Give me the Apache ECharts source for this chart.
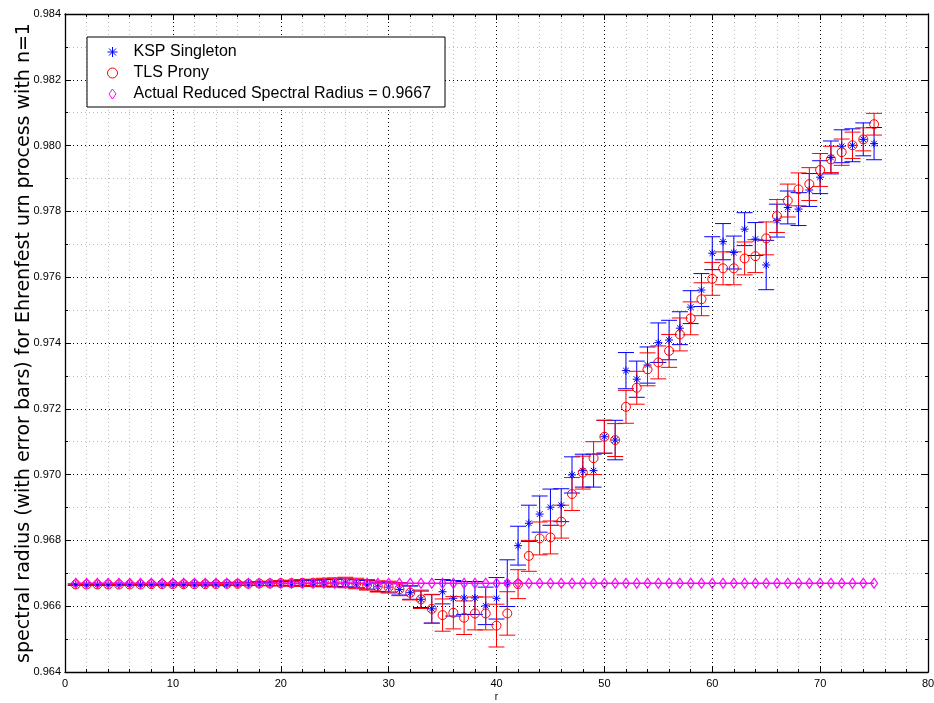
<!DOCTYPE html>
<html>
<head>
<meta charset="utf-8">
<script src="https://cdn.jsdelivr.net/npm/echarts@6/dist/echarts.min.js"></script>
<style>
  html, body { margin: 0; padding: 0; background: #fff; }
  #chart { width: 934px; height: 703px; }
</style>
</head>
<body>
<div id="chart"></div>
<script>
// r = 1 .. 75
const rValues = Array.from({ length: 75 }, (_, i) => i + 1);

// KSP Singleton estimates and error half-widths
const kspValues = [
  0.96665, 0.96665, 0.96665, 0.96665, 0.96666, 0.96666, 0.96666, 0.96666, 0.96666, 0.96666,
  0.96666, 0.96667, 0.96667, 0.96667, 0.96667, 0.96667, 0.96668, 0.96668, 0.96668, 0.96669,
  0.96669, 0.96670, 0.96670, 0.96671, 0.96671, 0.96671, 0.96668, 0.96665, 0.96659, 0.96658,
  0.96651, 0.96641, 0.96621, 0.96592, 0.96644, 0.96624, 0.96625, 0.96625, 0.96601, 0.96624,
  0.96670, 0.96784, 0.96852, 0.96880, 0.96901, 0.96907, 0.96999, 0.97012, 0.97012, 0.97115,
  0.97105, 0.97316, 0.97290, 0.97333, 0.97401, 0.97409, 0.97445, 0.97509, 0.97561, 0.97673,
  0.97708, 0.97675, 0.97746, 0.97716, 0.97637, 0.97772, 0.97812, 0.97807, 0.97865, 0.97904,
  0.97964, 0.97998, 0.98001, 0.98019, 0.98006
];
const kspErrors = [
  0.00002, 0.00002, 0.00002, 0.00002, 0.00002, 0.00002, 0.00002, 0.00002, 0.00002, 0.00002,
  0.00003, 0.00003, 0.00003, 0.00003, 0.00003, 0.00004, 0.00004, 0.00005, 0.00005, 0.00006,
  0.00007, 0.00008, 0.00009, 0.00010, 0.00011, 0.00012, 0.00012, 0.00013, 0.00014, 0.00015,
  0.00017, 0.00020, 0.00025, 0.00043, 0.00037, 0.00054, 0.00050, 0.00050, 0.00057, 0.00063,
  0.00071, 0.00059, 0.00055, 0.00055, 0.00055, 0.00050, 0.00055, 0.00050, 0.00050, 0.00050,
  0.00060, 0.00055, 0.00055, 0.00055, 0.00060, 0.00060, 0.00050, 0.00050, 0.00050, 0.00050,
  0.00055, 0.00050, 0.00050, 0.00050, 0.00075, 0.00050, 0.00050, 0.00050, 0.00050, 0.00050,
  0.00050, 0.00050, 0.00050, 0.00050, 0.00049
];

// TLS Prony estimates and error half-widths
const tlsValues = [
  0.96666, 0.96666, 0.96666, 0.96666, 0.96666, 0.96666, 0.96666, 0.96667, 0.96667, 0.96667,
  0.96667, 0.96667, 0.96667, 0.96667, 0.96668, 0.96668, 0.96668, 0.96669, 0.96669, 0.96670,
  0.96670, 0.96671, 0.96671, 0.96672, 0.96672, 0.96672, 0.96669, 0.96665, 0.96660, 0.96658,
  0.96652, 0.96641, 0.96621, 0.96592, 0.96573, 0.96580, 0.96565, 0.96578, 0.96578, 0.96541,
  0.96578, 0.96667, 0.96753, 0.96806, 0.96809, 0.96857, 0.96941, 0.97006, 0.97050, 0.97115,
  0.97105, 0.97206, 0.97264, 0.97320, 0.97341, 0.97376, 0.97426, 0.97475, 0.97533, 0.97595,
  0.97627, 0.97627, 0.97657, 0.97664, 0.97718, 0.97786, 0.97833, 0.97867, 0.97883, 0.97926,
  0.97958, 0.97980, 0.98001, 0.98019, 0.98065
];
const tlsErrors = [
  0.00002, 0.00002, 0.00002, 0.00002, 0.00002, 0.00002, 0.00002, 0.00002, 0.00002, 0.00003,
  0.00003, 0.00003, 0.00003, 0.00004, 0.00004, 0.00005, 0.00005, 0.00006, 0.00007, 0.00008,
  0.00009, 0.00010, 0.00011, 0.00013, 0.00014, 0.00016, 0.00016, 0.00016, 0.00017, 0.00018,
  0.00020, 0.00022, 0.00028, 0.00044, 0.00049, 0.00049, 0.00051, 0.00050, 0.00050, 0.00065,
  0.00066, 0.00044, 0.00047, 0.00050, 0.00050, 0.00050, 0.00050, 0.00050, 0.00050, 0.00050,
  0.00050, 0.00050, 0.00050, 0.00050, 0.00050, 0.00050, 0.00050, 0.00050, 0.00050, 0.00050,
  0.00050, 0.00050, 0.00050, 0.00050, 0.00050, 0.00050, 0.00050, 0.00050, 0.00050, 0.00050,
  0.00040, 0.00040, 0.00040, 0.00035, 0.00033
];

// Actual reduced spectral radius (constant reference)
const actualRadius = 0.9667;
const actualValues = rValues.map(() => actualRadius);

const seriesNames = [
  'KSP Singleton',
  'TLS Prony',
  'Actual Reduced Spectral Radius = 0.9667'
];

const xTicks = { min: 0, max: 80, interval: 10 };
const yTicks = { min: 0.964, max: 0.984, interval: 0.002 };

const FONT = "'Liberation Sans', Arial, Helvetica, sans-serif";
const BLUE = '#0000ff';
const RED = '#ff0000';
const MAGENTA = '#ff00ff';
const CAP_HALF = 0.74; // error bar cap half-width in r units

const ASTERISK = 'path://M50,0 L50,100 M0,50 L100,50 M15,15 L85,85 M15,85 L85,15';
const DIAMOND = 'path://M35,0 L70,50 L35,100 L0,50 Z';

function errorBarSeries(name, color, values, errors) {
  return {
    name: name,
    type: 'custom',
    silent: true,
    data: rValues.map((r, i) => [r, values[i], errors[i]]),
    encode: { x: 0, y: 1 },
    renderItem: function (params, api) {
      const x = api.value(0), y = api.value(1), e = api.value(2);
      const top = api.coord([x, y + e]);
      const bot = api.coord([x, y - e]);
      const hw = api.size([CAP_HALF, 0])[0];
      const style = { stroke: color, lineWidth: 1 };
      return {
        type: 'group',
        children: [
          { type: 'line', shape: { x1: top[0], y1: top[1], x2: bot[0], y2: bot[1] }, style: style },
          { type: 'line', shape: { x1: top[0] - hw, y1: top[1], x2: top[0] + hw, y2: top[1] }, style: style },
          { type: 'line', shape: { x1: bot[0] - hw, y1: bot[1], x2: bot[0] + hw, y2: bot[1] }, style: style }
        ]
      };
    }
  };
}

const gridDots = { color: '#000', width: 1, type: [1, 3] };
const minorDots = { color: '#b8b8b8', width: 1, type: [1, 3] };

const chart = echarts.init(document.getElementById('chart'), null, { renderer: 'canvas' });

chart.setOption({
  animation: false,
  backgroundColor: '#fff',
  textStyle: { fontFamily: FONT },
  grid: { left: 65, right: 6, top: 14, bottom: 31, containLabel: false, outerBoundsMode: 'none' },
  legend: {
    orient: 'vertical',
    left: 87,
    top: 37,
    padding: [5, 14, 3, 20],
    itemGap: 1,
    itemWidth: 10,
    itemHeight: 10,
    backgroundColor: '#fff',
    borderColor: '#000',
    borderWidth: 1,
    borderRadius: 0,
    selectedMode: false,
    textStyle: { fontFamily: FONT, fontSize: 16, color: '#000', lineHeight: 20, padding: [0, 0, 0, 11] },
    data: [
      { name: seriesNames[0], icon: ASTERISK, itemStyle: { color: 'transparent', borderColor: BLUE, borderWidth: 1 } },
      { name: seriesNames[1], icon: 'circle', itemStyle: { color: 'transparent', borderColor: RED, borderWidth: 1 } },
      { name: seriesNames[2], icon: DIAMOND, itemStyle: { color: 'transparent', borderColor: MAGENTA, borderWidth: 1 } }
    ]
  },
  xAxis: [
    {
      type: 'value',
      min: xTicks.min, max: xTicks.max, interval: xTicks.interval,
      name: 'r', nameLocation: 'middle', nameGap: 20, nameMoveOverlap: false,
      nameTextStyle: { fontSize: 10, color: '#000', fontFamily: FONT },
      axisLine: { show: true, onZero: false, lineStyle: { color: '#000', width: 1.3 } },
      axisTick: { show: true, inside: true, length: 6, lineStyle: { color: '#000' } },
      minorTick: { show: true, splitNumber: 5, length: 3, lineStyle: { color: '#000' } },
      axisLabel: { fontSize: 11, color: '#000', margin: 6, fontFamily: FONT },
      splitLine: { show: true, lineStyle: gridDots },
      minorSplitLine: { show: true, lineStyle: minorDots }
    },
    {
      type: 'value', position: 'top',
      min: xTicks.min, max: xTicks.max, interval: xTicks.interval,
      axisLine: { show: true, onZero: false, lineStyle: { color: '#000', width: 1.3 } },
      axisTick: { show: true, inside: true, length: 6, lineStyle: { color: '#000' } },
      minorTick: { show: true, splitNumber: 5, length: 3, lineStyle: { color: '#000' } },
      axisLabel: { show: false },
      splitLine: { show: false }
    }
  ],
  yAxis: [
    {
      type: 'value',
      min: yTicks.min, max: yTicks.max, interval: yTicks.interval,
      name: 'spectral radius (with error bars) for Ehrenfest urn process with n=1',
      nameLocation: 'middle', nameGap: 31, nameRotate: 90, nameMoveOverlap: false,
      nameTextStyle: { fontSize: 19, color: '#000', fontFamily: "'DejaVu Sans', sans-serif" },
      axisLine: { show: true, onZero: false, lineStyle: { color: '#000', width: 1.3 } },
      axisTick: { show: true, inside: true, length: 6, lineStyle: { color: '#000' } },
      minorTick: { show: true, splitNumber: 2, length: 3, lineStyle: { color: '#000' } },
      axisLabel: { fontSize: 11, color: '#000', margin: 4, fontFamily: FONT,
        formatter: v => v.toFixed(3) },
      splitLine: { show: true, lineStyle: gridDots },
      minorSplitLine: { show: true, lineStyle: minorDots }
    },
    {
      type: 'value', position: 'right',
      min: yTicks.min, max: yTicks.max, interval: yTicks.interval,
      axisLine: { show: true, onZero: false, lineStyle: { color: '#000', width: 1.3 } },
      axisTick: { show: true, inside: true, length: 6, lineStyle: { color: '#000' } },
      minorTick: { show: true, splitNumber: 2, length: 3, lineStyle: { color: '#000' } },
      axisLabel: { show: false },
      splitLine: { show: false }
    }
  ],
  series: [
    errorBarSeries('KSP Singleton bars', BLUE, kspValues, kspErrors),
    {
      name: seriesNames[0],
      type: 'scatter',
      data: rValues.map((r, i) => [r, kspValues[i]]),
      symbol: ASTERISK,
      symbolSize: 8,
      itemStyle: { color: 'transparent', borderColor: BLUE, borderWidth: 1, opacity: 1 },
      silent: true
    },
    errorBarSeries('TLS Prony bars', RED, tlsValues, tlsErrors),
    {
      name: seriesNames[1],
      type: 'scatter',
      data: rValues.map((r, i) => [r, tlsValues[i]]),
      symbol: 'circle',
      symbolSize: 9,
      itemStyle: { color: 'transparent', borderColor: RED, borderWidth: 1, opacity: 1 },
      silent: true
    },
    {
      name: seriesNames[2],
      type: 'line',
      data: rValues.map((r, i) => [r, actualValues[i]]),
      symbol: 'diamond',
      symbolSize: [7, 10],
      showSymbol: true,
      lineStyle: { color: MAGENTA, width: 1.5 },
      itemStyle: { color: 'transparent', borderColor: MAGENTA, borderWidth: 1.2 },
      silent: true
    }
  ]
});
</script>
</body>
</html>
